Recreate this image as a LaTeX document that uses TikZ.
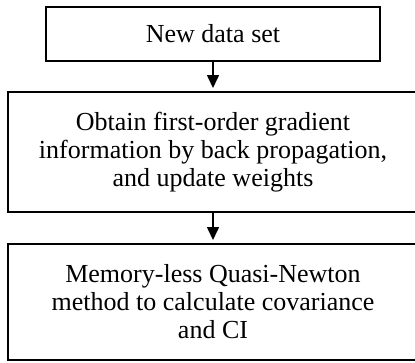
\documentclass[tikz,border=0pt]{standalone}
\usepackage{fontspec}
\setmainfont{Liberation Serif}
\usetikzlibrary{arrows.meta}
\begin{document}
\begin{tikzpicture}[x=1pt,y=1pt,
  flowbox/.style={draw=black, line width=2pt, align=center, inner sep=0pt,
    font=\fontsize{26}{28}\selectfont},
  flowarrow/.style={line width=1.6pt, -{Triangle[width=12pt,length=13pt]}, shorten >=3pt}]
\useasboundingbox (0,0) rectangle (415,-362);
\node[flowbox, minimum width=334pt, minimum height=54pt] (a) at (213,-34) {New data set};
\node[flowbox, minimum width=410pt, minimum height=120pt] (b) at (213,-152)
  {Obtain first-order gradient\\information by back propagation,\\and update weights};
\node[flowbox, minimum width=410pt, minimum height=116pt] (c) at (213,-302)
  {Memory-less Quasi-Newton\\method to calculate covariance\\and CI};
\draw[flowarrow] (a.south) -- (b.north);
\draw[flowarrow] (b.south) -- (c.north);
\end{tikzpicture}
\end{document}
